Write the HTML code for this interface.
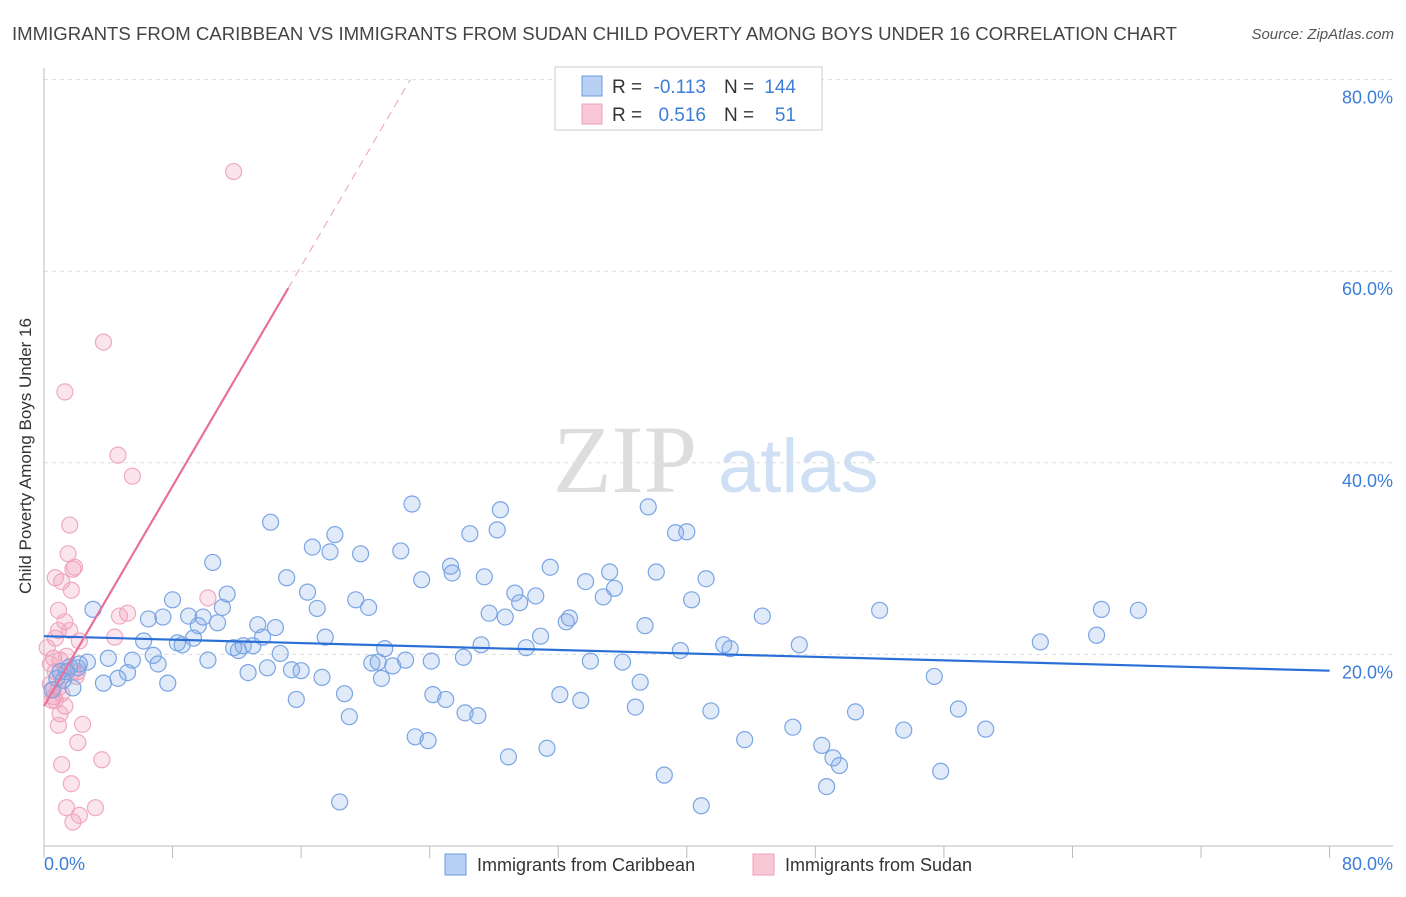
<!DOCTYPE html>
<html><head><meta charset="utf-8"><style>
body{margin:0;width:1406px;height:892px;background:#fff;font-family:"Liberation Sans",sans-serif;overflow:hidden}
</style></head><body>
<svg width="1406" height="892" viewBox="0 0 1406 892">
<text x="12" y="40" font-size="18.6" fill="#444">IMMIGRANTS FROM CARIBBEAN VS IMMIGRANTS FROM SUDAN CHILD POVERTY AMONG BOYS UNDER 16 CORRELATION CHART</text>
<text x="1394" y="39" font-size="15" fill="#555" font-style="italic" text-anchor="end">Source: ZipAtlas.com</text>
<g><text x="553" y="492" font-size="96" fill="#ddd" font-family="Liberation Serif,serif">ZIP</text><text x="718" y="492" font-size="76" fill="#d0e0f4">atlas</text></g>
<g id="grid"></g><g id="axes"></g><g id="pts"></g><g id="lines"></g>
<text x="31" y="456" font-size="17" fill="#333" text-anchor="middle" transform="rotate(-90 31 456)">Child Poverty Among Boys Under 16</text>
<g>
<rect x="555" y="67" width="267" height="63" fill="#fff" stroke="#ccc"/>
<rect x="582" y="76" width="20" height="20" fill="#b8d0f4" stroke="#6b9be0"/>
<rect x="582" y="104" width="20" height="20" fill="#f9c8d6" stroke="#f0a0b8"/>
<text x="612" y="93" font-size="19" fill="#333">R =</text>
<text x="706" y="93" font-size="19" fill="#3d7dd8" text-anchor="end">-0.113</text>
<text x="724" y="93" font-size="19" fill="#333">N =</text>
<text x="796" y="93" font-size="19" fill="#3d7dd8" text-anchor="end">144</text>
<text x="612" y="121" font-size="19" fill="#333">R =</text>
<text x="706" y="121" font-size="19" fill="#3d7dd8" text-anchor="end">0.516</text>
<text x="724" y="121" font-size="19" fill="#333">N =</text>
<text x="796" y="121" font-size="19" fill="#3d7dd8" text-anchor="end">51</text>
</g>
<g>
<rect x="445" y="854" width="21" height="21" fill="#b8d0f4" stroke="#6b9be0"/>
<text x="477" y="871" font-size="18" fill="#333">Immigrants from Caribbean</text>
<rect x="753" y="854" width="21" height="21" fill="#f9c8d6" stroke="#f0a0b8"/>
<text x="785" y="871" font-size="18" fill="#333">Immigrants from Sudan</text>
</g>
</svg>
<script>
const yTicks=[20,40,60,80];
const xTickLabels=["0.0%","80.0%"];
const blueX=[3.05,1.8,2.7,3.7,4.0,4.6,5.2,5.5,6.2,6.5,6.8,7.1,7.4,7.7,8.0,8.3,8.6,9.0,9.3,9.6,9.9,10.2,10.5,10.8,11.1,11.4,11.8,12.1,12.4,12.7,13.0,13.3,13.6,13.9,14.1,14.4,14.7,15.1,15.4,15.7,16.0,16.4,16.7,17.0,17.3,17.5,17.8,18.1,18.4,18.7,19.0,19.4,19.7,20.2,20.4,20.8,21.0,21.2,21.7,22.2,22.5,22.9,23.1,23.5,23.9,24.1,24.2,25.0,25.3,25.4,26.1,26.2,26.5,27.0,27.4,27.2,27.7,28.2,28.4,28.7,28.9,29.3,29.6,30.0,30.6,30.9,31.3,31.5,32.1,32.5,32.7,33.4,33.7,34.0,34.8,35.2,35.5,36.0,36.8,37.1,37.4,37.6,38.1,38.6,39.3,40.0,39.6,40.3,40.9,41.2,41.5,42.3,42.7,43.6,44.7,46.6,47.0,48.4,49.1,49.5,48.7,50.5,52.0,53.5,55.4,55.8,56.9,58.6,62.0,65.5,65.8,68.1,0.8,1.0,1.2,1.6,2.1,2.2,0.5,1.4];
const blueY=[24.7,16.5,19.2,17.0,19.6,17.5,18.1,19.4,21.4,23.7,19.9,19.0,23.9,17.0,25.7,21.2,21.0,24.0,21.7,23.0,23.9,19.4,29.6,23.3,24.9,26.3,20.7,20.4,20.9,18.1,20.9,23.1,21.8,18.6,33.8,22.8,20.1,28.0,18.4,15.3,18.3,26.5,31.2,24.8,17.6,21.8,30.7,32.5,4.6,15.9,13.5,25.7,30.5,24.9,19.1,19.2,17.5,20.6,18.8,30.8,19.4,35.7,11.4,27.8,11.0,19.3,15.8,15.3,29.2,28.5,19.7,13.9,32.6,13.6,28.1,21.0,24.3,33.0,35.1,23.9,9.3,26.4,25.4,20.7,26.1,21.9,10.2,29.1,15.8,23.4,23.8,15.2,27.6,19.3,26.0,28.6,26.9,19.2,14.5,17.1,23.0,35.4,28.6,7.4,32.7,32.8,20.4,25.7,4.2,27.9,14.1,21.0,20.6,11.1,24.0,12.4,21.0,10.5,9.2,8.4,6.2,14.0,24.6,12.1,17.7,7.8,14.3,12.2,21.3,22.0,24.7,24.6,17.5,18.2,17.3,18.7,18.6,19.0,16.3,18.2];
const pinkX=[11.8,3.7,1.3,4.6,5.5,1.6,1.5,1.9,1.8,0.7,1.1,1.7,10.2,5.2,4.7,0.9,1.3,0.9,0.7,2.2,4.4,0.6,1.0,1.4,0.4,0.7,1.1,1.8,2.1,0.4,0.9,1.1,0.5,0.6,1.3,1.0,2.4,0.9,2.1,3.6,1.1,1.7,3.2,1.4,1.8,2.2,2.0,0.2,1.6,0.6,0.7];
const pinkY=[70.4,52.6,47.4,40.8,38.6,33.5,30.5,29.1,28.9,28.0,27.6,26.7,25.9,24.3,24.0,24.6,23.4,22.5,21.7,21.4,21.8,19.6,19.4,19.8,19.0,18.2,17.8,18.2,18.2,16.9,16.5,15.9,15.2,15.6,14.6,13.8,12.7,12.6,10.8,9.0,8.5,6.5,4.0,4.0,2.5,3.2,17.7,20.7,22.5,16.3,15.2];
const blueLine=[21.9,18.3];
const pinkLine=[14.6,2.87];
const X=v=>44+v*16.07, Y=v=>846-v*9.58;
const NS="http://www.w3.org/2000/svg";
function mk(p,t,a){const e=document.createElementNS(NS,t);for(const k in a)e.setAttribute(k,a[k]);document.getElementById(p).appendChild(e);return e;}
yTicks.forEach(t=>{
 const g=mk('grid','line',{x1:44,x2:1393,y1:Y(t),y2:Y(t),stroke:'#ddd','stroke-dasharray':'4,4'});
 
 
 const l=mk('grid','text',{x:1393,y:Y(t)+24,'font-size':18,fill:'#3d7dd8','text-anchor':'end'});l.textContent=t.toFixed(1)+'%';
 
 
});
const ax=mk('axes','path',{d:'M44 68V846H1393',stroke:'#bbb',fill:'none'});


for(let i=0;i<=10;i++){const tk=mk('axes','line',{x1:X(i*8),x2:X(i*8),y1:846,y2:858,stroke:'#bbb'});
 
 }
const x0=mk('axes','text',{x:44,y:870,'font-size':18,fill:'#3d7dd8'});x0.textContent=xTickLabels[0];


const x1=mk('axes','text',{x:1393,y:870,'font-size':18,fill:'#3d7dd8','text-anchor':'end'});x1.textContent=xTickLabels[1];


pinkX.forEach((v,i)=>{const c=mk('pts','circle',{cx:X(v),cy:Y(pinkY[i]),r:8,fill:'rgba(240,150,180,0.25)',stroke:'#f0a8c0','stroke-width':1.2});
 
 });
blueX.forEach((v,i)=>{const c=mk('pts','circle',{cx:X(v),cy:Y(blueY[i]),r:8,fill:'rgba(130,170,230,0.25)',stroke:'#7aa5e4','stroke-width':1.2});
 
 });
const bl=mk('lines','line',{x1:X(0),y1:Y(blueLine[0]),x2:X(80),y2:Y(blueLine[1]),stroke:'#2a6fd6','stroke-width':2.2});


const xs=15.2, xe=(80-pinkLine[0])/pinkLine[1];
const pl=mk('lines','line',{x1:X(0),y1:Y(pinkLine[0]),x2:X(xs),y2:Y(pinkLine[0]+pinkLine[1]*xs),stroke:'#e8709a','stroke-width':2.2});


const pd=mk('lines','line',{x1:X(xs),y1:Y(pinkLine[0]+pinkLine[1]*xs),x2:X(xe),y2:Y(80),stroke:'#e8a0b8','stroke-width':1,'stroke-dasharray':'8,6'});


</script>
</body></html>
